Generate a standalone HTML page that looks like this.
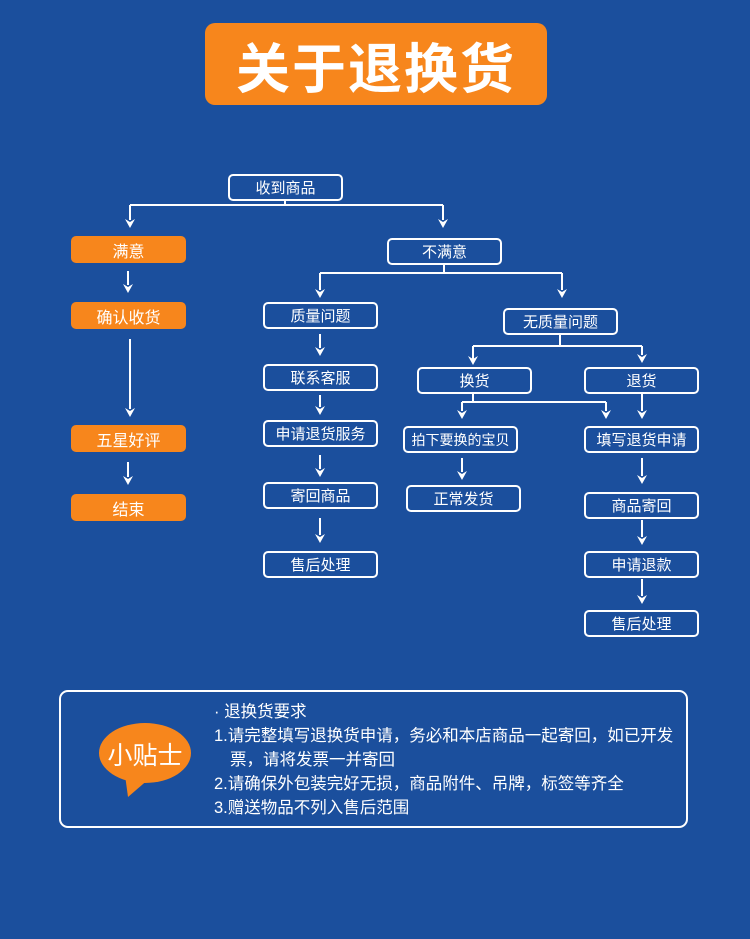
<!DOCTYPE html>
<html><head><meta charset="utf-8"><style>
body{margin:0;width:750px;height:939px;overflow:hidden;background:#1b4f9d;font-family:"Liberation Sans","Noto Sans CJK SC",sans-serif;position:relative}
.b{position:absolute;box-sizing:border-box;border:2px solid #fff;border-radius:5px;color:#fff;font-size:15px;text-align:center;display:flex;align-items:center;justify-content:center;width:115px;height:27px}
.o{background:#f7861c;border:none;font-size:16px}
svg{position:absolute;left:0;top:0}
</style></head><body>
<div style="position:absolute;left:205px;top:23px;width:342px;height:82px;background:#f7861c;border-radius:10px;color:#fff;font-size:54px;font-weight:bold;display:flex;align-items:center;justify-content:center;letter-spacing:2px">关于退换货</div>
<svg width="750" height="939" stroke="#fff" stroke-width="2" fill="none">
<path d="M285 200V205M130 205H443M130 205V220M443 205V220"/>
<path d="M128 271V285M130 339V409M128 462V477"/>
<path d="M444 264V273M320 273H562M320 273V290M562 273V290"/>
<path d="M320 334V348M320 395V407M320 455V469M320 518V535"/>
<path d="M560 334V346M473 346H642M473 346V360M642 346V355"/>
<path d="M473 393V402M462 402H606M462 402V411M606 402V411M642 393V411"/>
<path d="M462 458V472M642 458V476M642 520V537M642 579V596"/>
<g fill="#fff" stroke="none" id="arr"></g>
<rect x="60" y="691" width="627" height="136" rx="8"/>
<g fill="#f7861c" stroke="none"><ellipse cx="145" cy="753" rx="46" ry="30"/><path d="M125 775 L128 797 L150 778z"/></g>
</svg>
<script>
var pts=[[130,228],[443,228],[128,293],[130,417],[128,485],[320,298],[562,298],[320,356],[320,415],[320,477],[320,543],[473,365],[642,363],[462,419],[606,419],[642,419],[462,480],[642,484],[642,545],[642,604]];
var g=document.getElementById('arr'),s='';
pts.forEach(function(p){var x=p[0],y=p[1];s+='<path d="M'+(x-5)+' '+(y-9)+'L'+x+' '+y+'L'+(x+5)+' '+(y-9)+'L'+x+' '+(y-6)+'z"/>';});
g.innerHTML=s;
</script>
<div class="b" style="left:228px;top:174px">收到商品</div>
<div class="b o" style="left:71px;top:236px">满意</div>
<div class="b o" style="left:71px;top:302px">确认收货</div>
<div class="b o" style="left:71px;top:425px">五星好评</div>
<div class="b o" style="left:71px;top:494px">结束</div>
<div class="b" style="left:387px;top:238px">不满意</div>
<div class="b" style="left:263px;top:302px">质量问题</div>
<div class="b" style="left:263px;top:364px">联系客服</div>
<div class="b" style="left:263px;top:420px">申请退货服务</div>
<div class="b" style="left:263px;top:482px">寄回商品</div>
<div class="b" style="left:263px;top:551px">售后处理</div>
<div class="b" style="left:503px;top:308px">无质量问题</div>
<div class="b" style="left:417px;top:367px">换货</div>
<div class="b" style="left:584px;top:367px">退货</div>
<div class="b" style="left:403px;top:426px;font-size:14px">拍下要换的宝贝</div>
<div class="b" style="left:584px;top:426px">填写退货申请</div>
<div class="b" style="left:406px;top:485px">正常发货</div>
<div class="b" style="left:584px;top:492px">商品寄回</div>
<div class="b" style="left:584px;top:551px">申请退款</div>
<div class="b" style="left:584px;top:610px">售后处理</div>
<div style="position:absolute;left:97px;top:736px;width:96px;text-align:center;color:#fff;font-size:25px">小贴士</div>
<div style="position:absolute;left:214px;top:700px;color:#fff;font-size:16.5px;line-height:24px;white-space:nowrap">
<div>· 退换货要求</div>
<div>1.请完整填写退换货申请，务必和本店商品一起寄回，如已开发</div>
<div style="padding-left:16px">票，请将发票一并寄回</div>
<div>2.请确保外包装完好无损，商品附件、吊牌，标签等齐全</div>
<div>3.赠送物品不列入售后范围</div>
</div>
</body></html>
